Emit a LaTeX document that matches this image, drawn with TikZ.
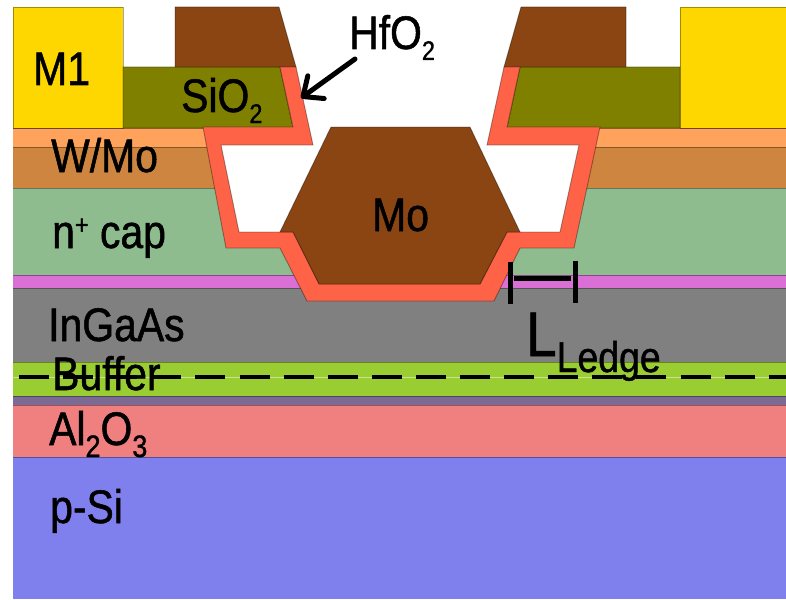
\documentclass[tikz,border=0pt]{standalone}
\usepackage{fontspec}
\setmainfont[FakeStretch=0.87,FakeBold=1.1]{Liberation Sans}
\usepackage{tikz}
\usetikzlibrary{arrows.meta}
\definecolor{mone}{HTML}{FFD700}
\definecolor{moly}{HTML}{8B4513}
\definecolor{oxide}{HTML}{808000}
\definecolor{hafnia}{HTML}{FF6347}
\definecolor{wcap}{HTML}{FFA35C}
\definecolor{wmo}{HTML}{CD853F}
\definecolor{ncap}{HTML}{8FBC8F}
\definecolor{etch}{HTML}{DA70D6}
\definecolor{ingaas}{HTML}{808080}
\definecolor{buffer}{HTML}{9ACD32}
\definecolor{nucl}{HTML}{7B6B94}
\definecolor{alox}{HTML}{F08080}
\definecolor{psi}{HTML}{7F7FEE}
\newcommand{\bigtxt}{\fontsize{47}{47}\selectfont}
\newcommand{\subtxt}[1]{\raisebox{-11pt}{\fontsize{27}{27}\selectfont #1}}
\newcommand{\alsub}[1]{\raisebox{-12pt}{\fontsize{31}{31}\selectfont #1}}
\begin{document}
\begin{tikzpicture}[x=1pt,y=-1pt]
    \tikzstyle{layer}=[draw=black, draw opacity=0.35, line width=0.9pt]
    \tikzstyle{label}=[inner sep=0pt, anchor=base west, font=\bigtxt]
    \tikzstyle{ledge}=[line width=5pt]
    \useasboundingbox (0,0) rectangle (786,599);
    \fill[white] (0,0) rectangle (786,599);
    \foreach \top/\bot/\col in {457/599/psi, 405/457/alox, 396/405/nucl, 362/396/buffer,
      288/362/ingaas, 275/288/etch, 188/275/ncap, 147/188/wmo, 128/147/wcap} {
      \fill[\col] (13,\top) rectangle (786,\bot);
      \draw[layer] (13,\top) -- (786,\top);
    }
    \fill[white] (210,125) -- (590,125) -- (566,240) -- (232,240) -- cycle;
    \draw[layer, fill=mone] (13,7) rectangle (123,128);
    \draw[layer, fill=mone] (680,7) rectangle (786,128);
    \draw[layer, fill=oxide] (123,67) -- (280,67) -- (293,128) -- (123,128) -- cycle;
    \draw[layer, fill=oxide] (680,67) -- (520,67) -- (507,128) -- (680,128) -- cycle;
    \draw[layer, fill=moly] (175,7) -- (279,7) -- (296,67) -- (175,67) -- cycle;
    \draw[layer, fill=moly] (626,7) -- (521,7) -- (504,67) -- (626,67) -- cycle;
    \draw[layer, fill=hafnia] (280,67) -- (296,67) -- (313,145) -- (221,145) -- (239,232)
      -- (293,232) -- (319,284) -- (480,284) -- (507,232) -- (560,232) -- (579,145)
      -- (487,145) -- (504,67) -- (520,67) -- (507,127) -- (600,127) -- (574,248)
      -- (520,248) -- (494,301) -- (307,301) -- (280,248) -- (226,248) -- (203,127)
      -- (293,127) -- cycle;
    \draw[layer, fill=moly] (331,127) -- (470,127) -- (520,232) -- (507,232) -- (480,284)
      -- (319,284) -- (293,232) -- (280,232) -- cycle;
    \draw[buffer!55!white, line width=1pt] (13,377) -- (786,377);
    \foreach \x in {19,63.1,...,770}
      \draw[line width=3.5pt] (\x,377) -- ++(30,0);
    \node[label] (mone) at (33,85) {M1};
    \node[label] (sio) at (181,112) {SiO\subtxt{2}};
    \node[label] (hfo) at (349,49) {HfO\subtxt{2}};
    \node[label] (wmo) at (51,172) {W/Mo};
    \node[label] (ncap) at (52,248) {n\raisebox{14pt}{\fontsize{27}{27}\selectfont +} cap};
    \node[label] (mo) at (372,231) {Mo};
    \node[label] (ingaas) at (48,341) {InGaAs};
    \node[label] (buffer) at (52,390) {Buffer};
    \node[label] (alox) at (49,445) {Al\alsub{2}O\alsub{3}};
    \node[label] (psi) at (50,523) {p-Si};
    \node[label, font=\fontsize{63}{63}\selectfont] (lledge) at (526,356) {L\raisebox{-16pt}{\fontsize{43}{43}\selectfont Ledge}};
    \coordinate (hfotip) at (301,98);
    \coordinate (hfotail) at (355,59);
    \draw[line width=5pt, line cap=round, -{Straight Barb[length=16pt, width=28pt, line width=5pt, round]}] (hfotail) -- (hfotip);
    \coordinate (ledgea) at (510,278);
    \coordinate (ledgeb) at (575,278);
    \draw[ledge] (ledgea) ++(0,-16) -- ++(0,42);
    \draw[ledge] (ledgeb) ++(0,-17) -- ++(0,42);
    \draw[ledge] (ledgea) ++(4,0) -- (571,278);
  \end{tikzpicture}
\end{document}
